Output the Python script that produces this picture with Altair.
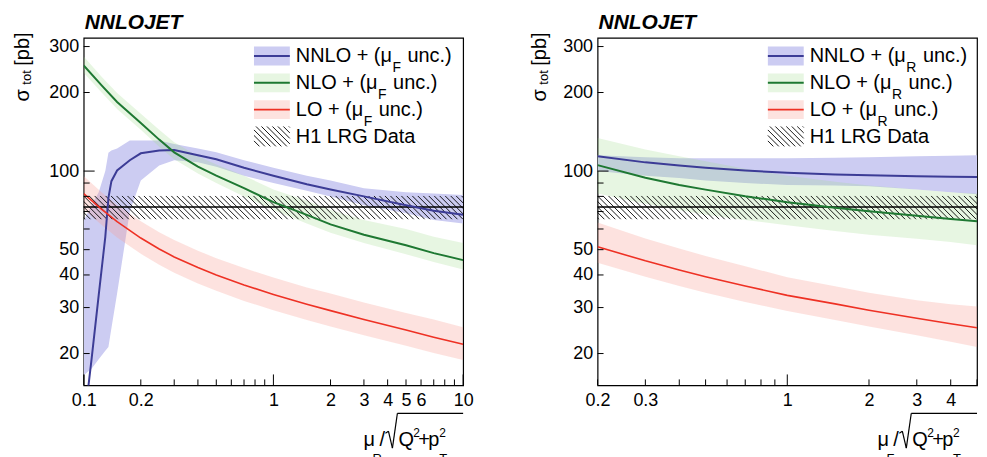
import altair as alt
import pandas as pd

FONT = "Liberation Sans"
W, H = 381, 349

# ---------------- data ----------------
# Left panel: renormalisation-scale variation (x = mu_R / sqrt(Q^2+pT^2))
L_X_NNLO = [0.1, 0.11, 0.12, 0.13, 0.135, 0.14, 0.15, 0.175, 0.2, 0.25, 0.3, 0.4, 0.5, 0.7, 1, 1.5, 2, 3, 5, 7, 10]
L_NNLO_C = [10.5, 19, 33.5, 56, 79, 91.5, 100.5, 110, 117, 120, 120.5, 115, 111, 103, 96, 89, 85, 80, 74, 70.5, 68]
L_NNLO_HI = [64.5, 74, 83, 100, 117.5, 120, 122, 131, 131, 131, 127, 122, 118, 110, 103, 96, 92, 86, 83, 82, 81]
L_NNLO_LO = [16.5, 17.5, 19, 20.5, 21.2, 25, 34, 70, 92, 105, 110, 108, 104, 96, 90, 84, 80, 74, 69, 65, 63]

L_X = [0.1, 0.125, 0.15, 0.2, 0.25, 0.3, 0.4, 0.5, 0.7, 1, 1.5, 2, 3, 5, 7, 10]
L_NLO_C = [254, 212, 184, 153, 132, 118, 104, 96, 86, 76, 68, 62.5, 57, 52, 48.5, 45.6]
L_NLO_HI = [275, 229, 199, 166, 144, 129, 114, 106, 96, 85, 77, 71, 65, 60, 56, 53]
L_NLO_LO = [238, 199, 173, 144, 124, 111, 98, 90, 80, 71, 63, 58, 53, 48, 44.8, 42]
L_LO_C = [82, 71.2, 64, 55.4, 50.3, 46.9, 42.7, 40, 36.6, 33.7, 30.9, 29.2, 27, 24.6, 23.1, 21.7]
L_LO_HI = [95.7, 82.6, 74.2, 64.3, 58.3, 54.4, 49.5, 46.4, 42.5, 39.1, 35.8, 34, 31.4, 28.6, 27, 25.2]
L_LO_LO = [71.3, 62, 55.7, 48.2, 43.8, 40.8, 37.1, 34.8, 31.8, 29.3, 26.9, 25.4, 23.5, 21.4, 20.1, 18.9]

# Right panel: factorisation-scale variation (x = mu_F / sqrt(Q^2+pT^2))
R_X = [0.2, 0.3, 0.4, 0.5, 0.7, 1, 1.5, 2, 3, 4, 5]
R_NNLO_C = [114, 108, 105, 103, 100.5, 98.5, 97, 96.3, 95.5, 95.2, 95]
R_NNLO_HI = [115, 113, 112, 112, 112, 112, 112.5, 113, 114, 114.5, 115]
R_NNLO_LO = [100, 96, 94, 92, 90, 88.5, 88, 87.5, 85, 83, 81.5]
R_NLO_C = [105.4, 94.3, 88.5, 84.9, 80.1, 76.0, 72.4, 70.2, 67.4, 65.5, 64.2]
R_NLO_HI = [134, 121, 114, 109, 102, 96, 91, 88, 85, 83, 82]
R_NLO_LO = [82, 75, 71, 68, 65, 62, 59, 57, 55, 53.5, 52]
R_LO_C = [51.3, 45.3, 41.8, 39.4, 36.3, 33.4, 31.0, 29.3, 27.3, 26.0, 25.1]
R_LO_HI = [63.5, 55.2, 50.5, 47.3, 43.2, 39.2, 36.2, 34.2, 32.0, 30.9, 30.3]
R_LO_LO = [44.5, 39.4, 36.3, 34.2, 31.5, 29.1, 26.9, 25.4, 23.5, 22.2, 21.2]

# H1 LRG measurement (central value and band edges)
H1_C, H1_HI, H1_LO = 72.9, 80.3, 65.4

YDOM = [15.1, 324]
L_XDOM = [0.1, 10]
R_XDOM = [0.2, 5]
Y_LABELS = [20, 30, 40, 50, 100, 200, 300]
Y_MINOR = [20, 30, 40, 50, 60, 70, 80, 90, 200, 300]
Y_MAJOR = [100]
L_XLABELS = [0.1, 0.2, 1, 2, 3, 4, 5, 6, 10]
L_X_MINOR = [0.2, 0.3, 0.4, 0.5, 0.6, 0.7, 0.8, 0.9, 2, 3, 4, 5, 6, 7, 8, 9]
L_X_MAJOR = [0.1, 1, 10]
R_XLABELS = [0.2, 0.3, 1, 2, 3, 4]
R_X_MINOR = [0.2, 0.3, 0.4, 0.5, 0.6, 0.7, 0.8, 0.9, 2, 3, 4, 5]
R_X_MAJOR = [1]

SERIES = ["NNLO", "NLO", "LO"]
BAND_COLOR = {"NNLO": "#ccccf2", "NLO": "#a0dc8c", "LO": "#f8a096"}
BAND_OPACITY = {"NNLO": 1.0, "NLO": 0.25, "LO": 0.3}
LINE_COLOR = {"NNLO": "#3c3c96", "NLO": "#1e7832", "LO": "#ee3124"}
LINE_WIDTH = {"NNLO": 2, "NLO": 2, "LO": 1.6}

DUMMY = pd.DataFrame({"d": [0]})


def txt(x, y, s, size=20, angle=None, align="left", baseline="alphabetic",
        weight="normal", style="normal"):
    kw = dict(font=FONT, fontSize=size, align=align, baseline=baseline,
              fontWeight=weight, fontStyle=style, color="black")
    if angle is not None:
        kw["angle"] = angle
    return alt.Chart(DUMMY).mark_text(**kw).encode(
        x=alt.value(x), y=alt.value(y), text=alt.value(s))


def seg(x1, y1, x2, y2, color="black", width=1.0):
    return alt.Chart(DUMMY).mark_rule(color=color, strokeWidth=width).encode(
        x=alt.value(x1), x2=alt.value(x2), y=alt.value(y1), y2=alt.value(y2))


def box(x1, y1, x2, y2, color, opacity):
    return alt.Chart(DUMMY).mark_rect(color=color, opacity=opacity).encode(
        x=alt.value(x1), x2=alt.value(x2), y=alt.value(y1), y2=alt.value(y2))


def panel(xdom, xlabels, xmajor, xminor, curves, sub, leg_sub, hatch_step,
          hatch_dx, ytitle_x):
    xscale = alt.Scale(type="log", domain=xdom, nice=False, zero=False)
    yscale = alt.Scale(type="log", domain=YDOM, nice=False, zero=False)
    xaxis = alt.Axis(values=xlabels, format="~g", ticks=False, domain=False,
                     grid=False, labelFont=FONT, labelFontSize=18,
                     labelColor="black", labelPadding=6, labelFlush=False,
                     labelOverlap=False, labelBound=False, title=None)
    yaxis = alt.Axis(values=Y_LABELS, format="~g", ticks=False, domain=False,
                     grid=False, labelFont=FONT, labelFontSize=18,
                     labelColor="black", labelPadding=5, labelFlush=False,
                     labelOverlap=False, labelBound=False, title=None)

    def X(f):
        return alt.X(f"{f}:Q", scale=xscale, axis=xaxis)

    def Y(f):
        return alt.Y(f"{f}:Q", scale=yscale, axis=yaxis)

    layers = []
    # uncertainty bands
    for name in SERIES:
        xs, c, lo, hi = curves[name]
        df = pd.DataFrame({"x": xs, "lo": lo, "hi": hi})
        layers.append(alt.Chart(df).mark_area(
            clip=True, color=BAND_COLOR[name], opacity=BAND_OPACITY[name]
        ).encode(x=X("x"), y=Y("lo"), y2=alt.Y2("hi")))

    # hatched H1 band (diagonal hatch pattern between the band edges)
    tops = []
    i = -12
    while True:
        xt = xdom[0] * 10 ** (i * hatch_step)
        if xt > xdom[1]:
            break
        tops.append(xt)
        i += 1
    hdf = pd.DataFrame({"x1": tops, "x2": [t * 10 ** hatch_dx for t in tops],
                        "yt": [H1_HI] * len(tops), "yb": [H1_LO] * len(tops)})
    layers.append(alt.Chart(hdf).mark_rule(clip=True, color="black",
                                           strokeWidth=0.9).encode(
        x=X("x1"), x2=alt.X2("x2"), y=Y("yt"), y2=alt.Y2("yb")))
    layers.append(alt.Chart(pd.DataFrame({"v": [H1_C]})).mark_rule(
        color="black", strokeWidth=1.5).encode(
        y=Y("v"), x=alt.value(0), x2=alt.value(W)))

    # central predictions
    for name in SERIES:
        xs, c, lo, hi = curves[name]
        df = pd.DataFrame({"x": xs, "c": c})
        layers.append(alt.Chart(df).mark_line(
            clip=True, color=LINE_COLOR[name], strokeWidth=LINE_WIDTH[name]
        ).encode(x=X("x"), y=Y("c")))

    # inward ticks (ROOT style)
    layers.append(alt.Chart(pd.DataFrame({"v": xminor})).mark_rule(
        color="black", strokeWidth=1).encode(
        x=X("v"), y=alt.value(H), y2=alt.value(H - 6)))
    layers.append(alt.Chart(pd.DataFrame({"v": xmajor})).mark_rule(
        color="black", strokeWidth=1).encode(
        x=X("v"), y=alt.value(H), y2=alt.value(H - 11)))
    layers.append(alt.Chart(pd.DataFrame({"v": Y_MINOR})).mark_rule(
        color="black", strokeWidth=1).encode(
        y=Y("v"), x=alt.value(0), x2=alt.value(6)))
    layers.append(alt.Chart(pd.DataFrame({"v": Y_MAJOR})).mark_rule(
        color="black", strokeWidth=1).encode(
        y=Y("v"), x=alt.value(0), x2=alt.value(11)))

    # NNLOJET label
    layers.append(txt(1, -9, "NNLOJET", size=21, weight="bold", style="italic"))

    # y title  sigma_tot [pb]
    layers.append(txt(ytitle_x, 64, "σ", size=20, angle=270))
    layers.append(txt(ytitle_x + 2.5, 47, "tot", size=13, angle=270))
    layers.append(txt(ytitle_x, 28, "[pb]", size=20, angle=270))

    # x title  mu_X / sqrt(Q^2 + pT^2)
    bl = 410
    layers.append(txt(281, bl, "μ", size=20))
    layers.append(txt(290, bl + 17, sub, size=13))
    layers.append(txt(297, bl, "/", size=20))
    layers.append(seg(303, 397, 306, 395, width=1.2))
    layers.append(seg(306, 395, 310, 412, width=1.2))
    layers.append(seg(310, 412, 315, 377, width=1.2))
    layers.append(seg(315, 377, W, 377, width=1.2))
    layers.append(txt(316, bl, "Q", size=20))
    layers.append(txt(331, bl - 9, "2", size=12))
    layers.append(txt(336, bl, "+", size=20))
    layers.append(txt(346, bl, "p", size=20))
    layers.append(txt(357, bl - 9, "2", size=12))
    layers.append(txt(357, bl + 17, "T", size=13))

    # legend
    sw_x1, sw_x2, tx = 171, 207, 213
    step = 26.9
    labels = {"NNLO": "NNLO + (μ", "NLO": "NLO + (μ", "LO": "LO + (μ"}
    widths = {"NNLO": 4.827, "NLO": 4.105, "LO": 3.383}
    subw = 0.611 if leg_sub == "F" else 0.722
    for k, name in enumerate(SERIES):
        cy = 18.3 + k * step
        base = 24.7 + k * step
        layers.append(box(sw_x1, cy - 9.5, sw_x2, cy + 9.5,
                          BAND_COLOR[name], BAND_OPACITY[name]))
        layers.append(seg(sw_x1, cy, sw_x2, cy, color=LINE_COLOR[name],
                          width=LINE_WIDTH[name]))
        layers.append(txt(tx, base, labels[name], size=20))
        sx = tx + widths[name] * 20 + 0.5
        layers.append(txt(sx, base + 10, leg_sub, size=14))
        layers.append(txt(sx + subw * 14 + 6.5, base, "unc.)", size=20))
    # hatched swatch
    cy = 18.3 + 3 * step
    y0, y1 = cy - 10, cy + 10
    bw, bh = sw_x2 - sw_x1, y1 - y0
    c = -bh
    while c < bw:
        ya = max(0.0, -c)
        yb = min(bh, bw - c)
        if yb > ya:
            layers.append(seg(sw_x1 + ya + c, y0 + ya, sw_x1 + yb + c, y0 + yb,
                              width=0.9))
        c += 5.5
    layers.append(txt(tx, 24.7 + 3 * step, "H1 LRG Data", size=20))

    return alt.layer(*layers).properties(width=W, height=H)


left = panel(L_XDOM, L_XLABELS, L_X_MAJOR, L_X_MINOR,
             {"NNLO": (L_X_NNLO, L_NNLO_C, L_NNLO_LO, L_NNLO_HI),
              "NLO": (L_X, L_NLO_C, L_NLO_LO, L_NLO_HI),
              "LO": (L_X, L_LO_C, L_LO_LO, L_LO_HI)},
             "R", "F", 5.5 / 190.5, 23.3 / 190.5, -55)
right = panel(R_XDOM, R_XLABELS, R_X_MAJOR, R_X_MINOR,
              {"NNLO": (R_X, R_NNLO_C, R_NNLO_LO, R_NNLO_HI),
               "NLO": (R_X, R_NLO_C, R_NLO_LO, R_NLO_HI),
               "LO": (R_X, R_LO_C, R_LO_LO, R_LO_HI)},
              "F", "R", 5.5 / 273, 23.3 / 273, -52)

chart = alt.hconcat(left, right, spacing=135, bounds="flush").properties(
    padding={"left": 4, "top": 2, "right": 0, "bottom": 0}
).configure_view(stroke="black", strokeWidth=1.2)

chart.save("out.html", embed_options={"renderer": "svg", "actions": False})
